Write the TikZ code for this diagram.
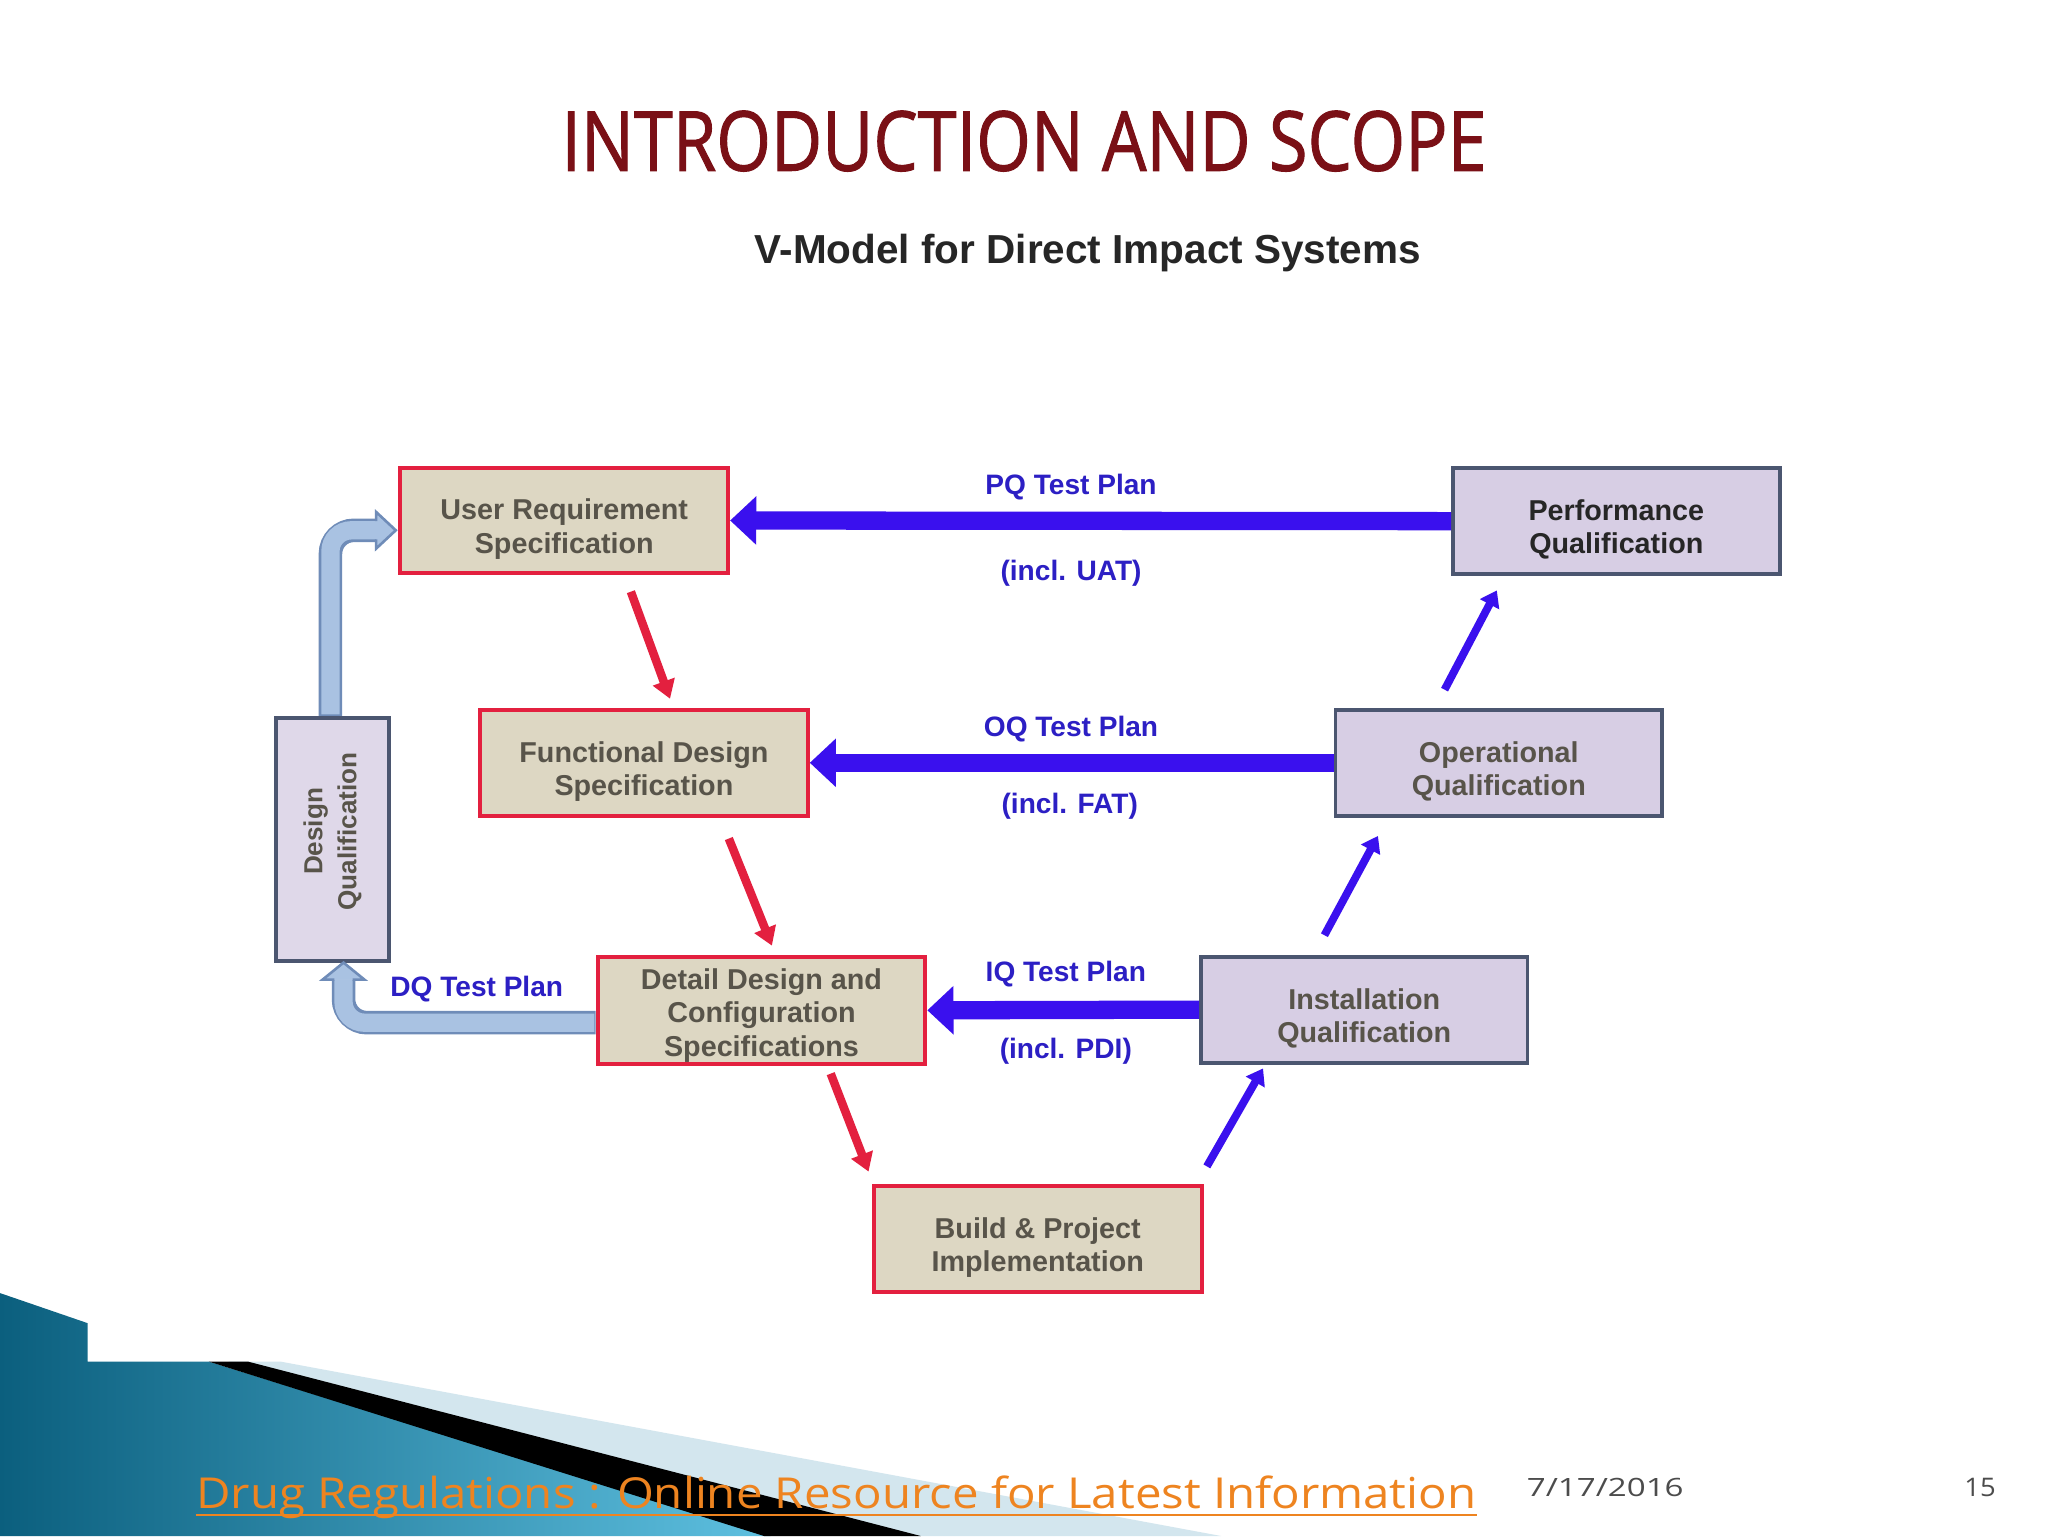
\documentclass[tikz,border=0pt]{standalone}
\usepackage{fontspec}
\setmainfont{Liberation Sans}
\newfontfamily\titlefont{Open Sans}
\newfontfamily\titlefontb[FakeBold=1.3]{Open Sans}
\usetikzlibrary{arrows.meta,calc}
\newcommand{\lowr}{\rule{0pt}{29pt}}
\definecolor{tanfill}{HTML}{DDD7C3}
\definecolor{redline}{HTML}{E3203F}
\definecolor{lavfill}{HTML}{D7CEE4}
\definecolor{slateline}{HTML}{4B5670}
\definecolor{vblue}{HTML}{3A10EE}
\definecolor{lblue}{HTML}{2C1FC4}
\definecolor{pale}{HTML}{A9C2E2}
\definecolor{paleedge}{HTML}{6F8CB8}
\definecolor{titlered}{HTML}{7A1016}
\definecolor{boxtext}{HTML}{58544A}
\definecolor{orangetxt}{HTML}{EE8420}
\definecolor{tealdark}{HTML}{0B5F7E}
\definecolor{teallight}{HTML}{5EC0E0}
\definecolor{stripe}{HTML}{D3E6EE}
\begin{document}
\begin{tikzpicture}[x=1pt,y=-1pt,
  specbox/.style={draw=redline, line width=3pt, fill=tanfill, minimum width=251pt, minimum height=81pt, align=center, font=\fontsize{22}{25.5}\selectfont\bfseries, text=boxtext, inner sep=0pt},
  qualbox/.style={draw=slateline, line width=3pt, fill=lavfill, minimum width=250pt, minimum height=81pt, align=center, font=\fontsize{22}{25.5}\selectfont\bfseries, text=boxtext, inner sep=0pt},
  bigarrow/.style={draw=vblue, line width=14pt, -{Triangle[length=20pt,width=36pt]}},
  redarrow/.style={draw=redline, line width=6.5pt, -{Triangle[length=14pt,width=17pt]}},
  uparrow/.style={draw=vblue, line width=6pt, -{Triangle[length=12pt,width=16pt]}},
  plan/.style={text=lblue, font=\fontsize{21.5}{24}\selectfont\bfseries, inner sep=0pt},
  paleshaftout/.style={draw=paleedge, line width=18pt, rounded corners=18pt},
  paleshaftin/.style={draw=pale, line width=14pt, rounded corners=16pt},
  palehead/.style={draw=paleedge, line width=2pt, fill=pale, line join=miter}
]
\useasboundingbox (0,0) rectangle (1568,1176);
\fill[white] (0,0) rectangle (1568,1176);

% footer background
\shade[left color=tealdark, right color=teallight] (0,990) -- (67,1013) -- (67,1042.5) -- (160,1042.5) -- (590,1176) -- (0,1176) -- cycle;
\fill[stripe] (175,1042.5) -- (215,1042.5) -- (935,1176) -- (690,1176) -- cycle;
\fill[black] (160,1042.5) -- (190,1042.5) -- (705,1176) -- (585,1176) -- cycle;

% titles
\node[text=titlered, inner sep=0pt] (title) at (784,108) {\resizebox{708pt}{46pt}{\titlefontb INTRODUCTION AND SCOPE}};
\node[font=\fontsize{31}{34}\selectfont\bfseries, text=black!85, inner sep=0pt] (sub) at (833,194) {V-Model for Direct Impact Systems};

% boxes
\node[specbox] (URS) at (432,398.5) {\lowr User Requirement\\Specification};
\node[specbox] (FDS) at (493,584) {\lowr Functional Design\\Specification};
\node[specbox, minimum height=82pt] (DDCS) at (583,773.5) {\rule{0pt}{24pt}Detail Design and\\Configuration\\Specifications};
\node[specbox] (BPI) at (794.5,948.5) {\lowr Build \& Project\\Implementation};
\node[qualbox] (IQ) at (1044.5,773) {\lowr Installation\\Qualification};
\node[qualbox] (OQ) at (1147.5,584) {\lowr Operational\\Qualification};
\node[qualbox, text=black!85] (PQ) at (1237.5,399) {\lowr Performance\\Qualification};
\node[qualbox, fill=lavfill!80!white, minimum width=86pt, minimum height=186pt] (DQ) at (254.5,642.5) {};
\node[rotate=90, align=center, font=\fontsize{20}{26}\selectfont\bfseries, text=boxtext] (DQt) at ($(DQ.center)+(0,-6)$) {Design\\Qualification};

% horizontal test-plan arrows
\draw[bigarrow] (PQ.west) -- (URS.east);
\draw[bigarrow] (OQ.west) -- (FDS.east);
\draw[bigarrow] (IQ.west) -- (DDCS.east);

\node[plan] (pqa) at (820,373) {PQ Test Plan};
\node[plan] (pqb) at (820,439) {(incl. UAT)};
\node[plan] (oqa) at (820,558) {OQ Test Plan};
\node[plan] (oqb) at (819,617) {(incl. FAT)};
\node[plan] (iqa) at (816,746) {IQ Test Plan};
\node[plan] (iqb) at (816,805) {(incl. PDI)};
\node[plan] (dqa) at (365,757) {DQ Test Plan};

% red down arrows
\coordinate (r1a) at (483,453); \coordinate (r1b) at (513,535);
\coordinate (r2a) at (558,642); \coordinate (r2b) at (591,724);
\coordinate (r3a) at (636,822); \coordinate (r3b) at (665,897);
\draw[redarrow] (r1a) -- (r1b);
\draw[redarrow] (r2a) -- (r2b);
\draw[redarrow] (r3a) -- (r3b);

% blue up arrows
\coordinate (b1a) at (924,893); \coordinate (b1b) at (967,818);
\coordinate (b2a) at (1014,716); \coordinate (b2b) at (1055,640);
\coordinate (b3a) at (1106,528); \coordinate (b3b) at (1146,452);
\draw[uparrow] (b1a) -- (b1b);
\draw[uparrow] (b2a) -- (b2b);
\draw[uparrow] (b3a) -- (b3b);

% DQ -> URS block arrow
\coordinate (d0) at (253,548);
\coordinate (h1) at (288,406);
\draw[paleshaftout] (d0) |- (h1);
\draw[paleshaftin] ($(d0)+(0,-1)$) |- (h1);
\fill[pale] (288,392) -- (303,406) -- (288,420) -- cycle;
\draw[palehead] (288,399) -- (288,392) -- (303,406) -- (288,420) -- (288,413);

% DDCS -> DQ block arrow
\coordinate (e0) at ($(DDCS.west)+(0,9.5)$);
\coordinate (h2) at (263,750);
\draw[paleshaftout] (e0) -| (h2);
\draw[paleshaftin] ($(e0)+(-1,0)$) -| (h2);
\fill[pale] (247,750) -- (263,737) -- (279,750) -- cycle;
\draw[palehead] (256,750) -- (247,750) -- (263,737) -- (279,750) -- (270,750);

% footer text
\node[anchor=base west, text=orangetxt, inner sep=0pt] (foot) at (150,1155) {\resizebox{980pt}{25pt}{\titlefont Drug Regulations : Online Resource for Latest Information}};
\draw[orangetxt, line width=2pt] ($(foot.base west)+(0,5)$) -- ($(foot.base east)+(0,5)$);
\node[text=black!70, inner sep=0pt] (date) at (1229,1139) {\resizebox{120pt}{14pt}{\titlefont 7/17/2016}};
\node[text=black!70, inner sep=0pt] (pnum) at (1516,1139) {\resizebox{24pt}{14pt}{\titlefont 15}};
\end{tikzpicture}
\end{document}
